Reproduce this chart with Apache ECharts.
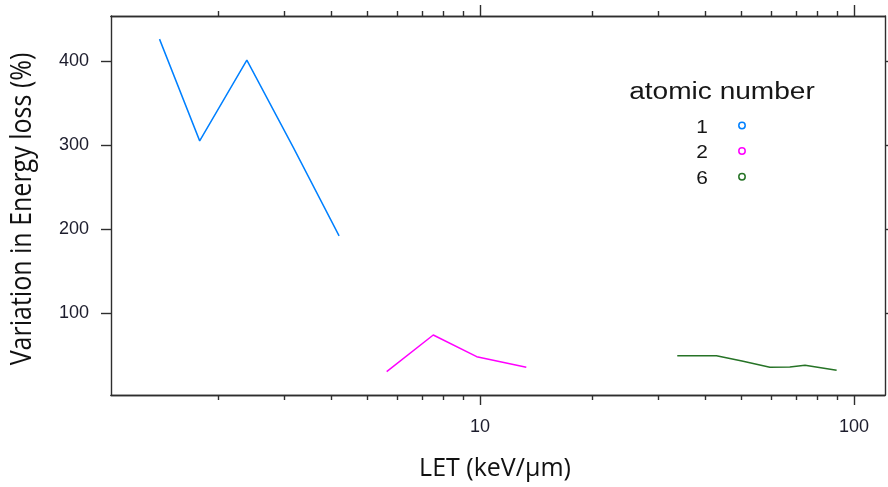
<!DOCTYPE html>
<html>
<head>
<meta charset="utf-8">
<title>Variation in energy loss vs LET</title>
<script src="https://cdn.jsdelivr.net/npm/echarts@6/dist/echarts.min.js"></script>
<style>
  html, body { margin: 0; padding: 0; background: #ffffff; }
  #chart { width: 888px; height: 487px; }
</style>
</head>
<body>
<div id="chart"></div>
<script>
// Series names (atomic number of the ion)
const seriesNames = ['1', '2', '6'];
const seriesColors = ['#0080ff', '#ff00ff', '#267326'];

// Z = 1
const letZ1 = [1.39, 1.78, 2.38, 3.17, 4.20];
const varZ1 = [426, 305, 401, 297, 192];
// Z = 2
const letZ2 = [5.63, 7.50, 9.80, 13.3];
const varZ2 = [30.6, 74.2, 48.4, 35.8];
// Z = 6
const letZ6 = [33.7, 42.9, 50.2, 59.6, 67.4, 74.0, 89.9];
const varZ6 = [49.6, 49.6, 43.3, 35.9, 36.1, 38.2, 32.3];

// Axis ticks
const xMinorTicks = [2, 3, 4, 5, 6, 7, 8, 9, 20, 30, 40, 50, 60, 70, 80, 90];
const xMajorTicks = [10, 100];
const yTicks = [100, 200, 300, 400];

const xRange = [1.031, 121.1];
const yRange = [2.85, 453.5];

const axisColor = '#2e2e2e';
const labelFont = { fontFamily: '"Liberation Sans", Arial, sans-serif', fontSize: 18, color: '#1c1c2c' };

function pairs(xs, ys) { return xs.map((x, i) => [x, ys[i]]); }
const seriesData = [pairs(letZ1, varZ1), pairs(letZ2, varZ2), pairs(letZ6, varZ6)];

function logAxis(position, ticks, tickLen, labels) {
  return {
    type: 'log', logBase: 10, position: position,
    min: xRange[0], max: xRange[1],
    axisLine: { show: true, onZero: false, lineStyle: { color: axisColor, width: 1.4 } },
    axisTick: { show: true, customValues: ticks, length: tickLen, lineStyle: { color: axisColor, width: 1.4 } },
    axisLabel: labels ? Object.assign({ show: true, customValues: labels, margin: 23 }, labelFont) : { show: false },
    splitLine: { show: false }, minorTick: { show: false }
  };
}

function valueAxis(position, labels) {
  return {
    type: 'value', position: position,
    min: yRange[0], max: yRange[1],
    axisLine: { show: true, onZero: false, lineStyle: { color: axisColor, width: 1.4 } },
    axisTick: { show: true, customValues: yTicks, length: 10, lineStyle: { color: axisColor, width: 1.4 } },
    axisLabel: labels ? Object.assign({ show: true, customValues: yTicks, margin: 22 }, labelFont) : { show: false },
    splitLine: { show: false }
  };
}

// Legend block: heading, names and open-circle keys
const legendX = 702, keyX = 742;
const legendRows = [127.5, 153, 178.8];
const legendGraphics = [{
  type: 'text', x: 722, y: 93, scaleX: 1.22,
  style: { text: 'atomic number', font: '23px "Liberation Sans", Arial, sans-serif', fill: '#161616',
           align: 'center', verticalAlign: 'middle', textAlign: 'center', textVerticalAlign: 'middle' }
}];
seriesNames.forEach((name, i) => {
  legendGraphics.push({
    type: 'text', x: legendX, y: legendRows[i], scaleX: 1.1,
    style: { text: name, font: '19px "Liberation Sans", Arial, sans-serif', fill: '#161616',
             align: 'center', verticalAlign: 'middle', textAlign: 'center', textVerticalAlign: 'middle' }
  });
  legendGraphics.push({
    type: 'circle', shape: { cx: keyX, cy: legendRows[i] - 2, r: 3.2 },
    style: { fill: 'none', stroke: seriesColors[i], lineWidth: 1.5 }
  });
});

const titleFont = '25px "Open Sans", "Noto Sans", sans-serif';
const axisTitles = [
  { type: 'text', x: 23, y: 209, rotation: Math.PI / 2, scaleY: 1.15,
    style: { text: 'Variation in Energy loss (%)', font: titleFont, fill: '#111111',
             align: 'center', verticalAlign: 'middle', textAlign: 'center', textVerticalAlign: 'middle' } },
  { type: 'text', x: 495, y: 469,
    style: { text: 'LET (keV/\u00b5m)', font: titleFont, fill: '#111111',
             align: 'center', verticalAlign: 'middle', textAlign: 'center', textVerticalAlign: 'middle' } }
];

const chart = echarts.init(document.getElementById('chart'), null, { renderer: 'canvas' });
chart.setOption({
  animation: false,
  backgroundColor: '#ffffff',
  grid: { left: 111, right: 3, top: 16, bottom: 92, containLabel: false },
  xAxis: [
    logAxis('bottom', xMinorTicks, 5, null),
    logAxis('bottom', xMajorTicks, 10, xMajorTicks),
    logAxis('top', xMinorTicks, 5, null),
    logAxis('top', xMajorTicks, 11, null)
  ],
  yAxis: [
    valueAxis('left', true),
    valueAxis('right', false)
  ],
  series: seriesNames.map((name, i) => ({
    name: name, type: 'line', xAxisIndex: 0, yAxisIndex: 0,
    data: seriesData[i], showSymbol: false, symbol: 'none',
    lineStyle: { color: seriesColors[i], width: 1.5 },
    itemStyle: { color: seriesColors[i] }
  })),
  graphic: axisTitles.concat(legendGraphics)
});
</script>
</body>
</html>
